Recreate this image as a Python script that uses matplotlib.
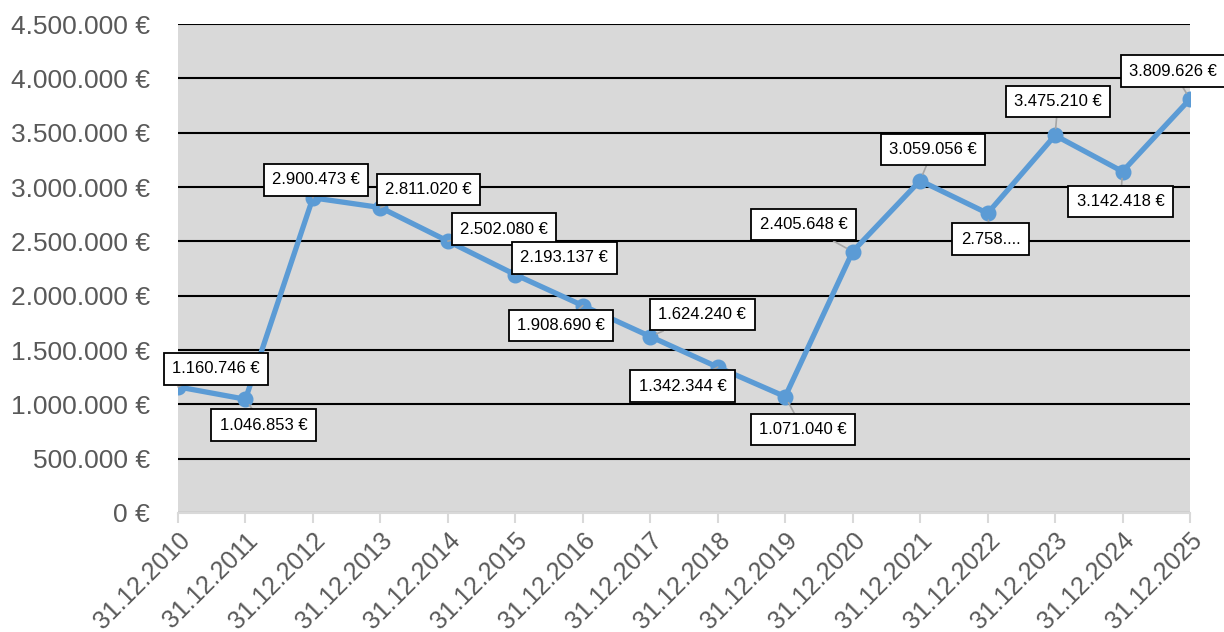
import matplotlib.pyplot as plt
from matplotlib.ticker import FuncFormatter

dates = ['31.12.2010', '31.12.2011', '31.12.2012', '31.12.2013', '31.12.2014',
         '31.12.2015', '31.12.2016', '31.12.2017', '31.12.2018', '31.12.2019',
         '31.12.2020', '31.12.2021', '31.12.2022', '31.12.2023', '31.12.2024',
         '31.12.2025']
values = [1160746, 1046853, 2900473, 2811020, 2502080, 2193137, 1908690, 1624240,
          1342344, 1071040, 2405648, 3059056, 2758000, 3475210, 3142418, 3809626]
labels = ['1.160.746 €', '1.046.853 €', '2.900.473 €', '2.811.020 €', '2.502.080 €',
          '2.193.137 €', '1.908.690 €', '1.624.240 €', '1.342.344 €', '1.071.040 €',
          '2.405.648 €', '3.059.056 €', '2.758....', '3.475.210 €', '3.142.418 €',
          '3.809.626 €']
# label offsets from the point, in pixels (x right, y up)
offsets = [(38, 18), (18, -26), (3, 18), (48, 18), (56, 12), (49, 17), (-22, -20),
           (52, 22), (-35, -19), (18, -33), (-49, 27), (13, 31), (3, -26), (3, 34),
           (-2, -30), (-17, 28)]

plt.rcParams['font.family'] = ['Liberation Sans', 'DejaVu Sans']

fig = plt.figure(figsize=(12.24, 6.32), dpi=100)
ax = fig.add_axes([0.1454, 0.1883, 0.8268, 0.7737])
ax.set_facecolor('#d9d9d9')

x = list(range(len(dates)))
ax.plot(x, values, color='#5b9bd5', lw=3.8, marker='o', markersize=10.5, zorder=3,
        solid_joinstyle='round')

for xi, v, lab, (dx, dy) in zip(x, values, labels, offsets):
    ax.annotate(lab, (xi, v), xytext=(dx, dy), textcoords='offset pixels',
                ha='center', va='center', fontsize=12, color='black', zorder=5,
                bbox=dict(boxstyle='square,pad=0.5', fc='white', ec='black', lw=1.3),
                arrowprops=dict(arrowstyle='-', color='#a6a6a6', lw=1.2,
                                shrinkA=0, shrinkB=5))

ax.set_xlim(0, 15)
ax.set_ylim(0, 4500000)
ax.set_yticks(range(0, 4500001, 500000))
ax.yaxis.set_major_formatter(FuncFormatter(
    lambda v, p: '{:,.0f} €'.format(v).replace(',', '.')))
ax.set_xticks(x)
ax.set_xticklabels(dates, rotation=45, ha='right', rotation_mode='anchor')
ax.tick_params(axis='y', length=0, labelsize=19, labelcolor='#595959', pad=20)
ax.tick_params(axis='x', length=7, color='#d9d9d9', width=1.5, labelsize=18,
               labelcolor='#595959', pad=4)

ax.grid(axis='y', color='black', lw=1.5)
ax.set_axisbelow(True)
for s in ['top', 'right', 'left']:
    ax.spines[s].set_visible(False)
ax.spines['bottom'].set_color('#d9d9d9')
ax.spines['bottom'].set_linewidth(1.5)

fig.savefig('out.png', dpi=100)
